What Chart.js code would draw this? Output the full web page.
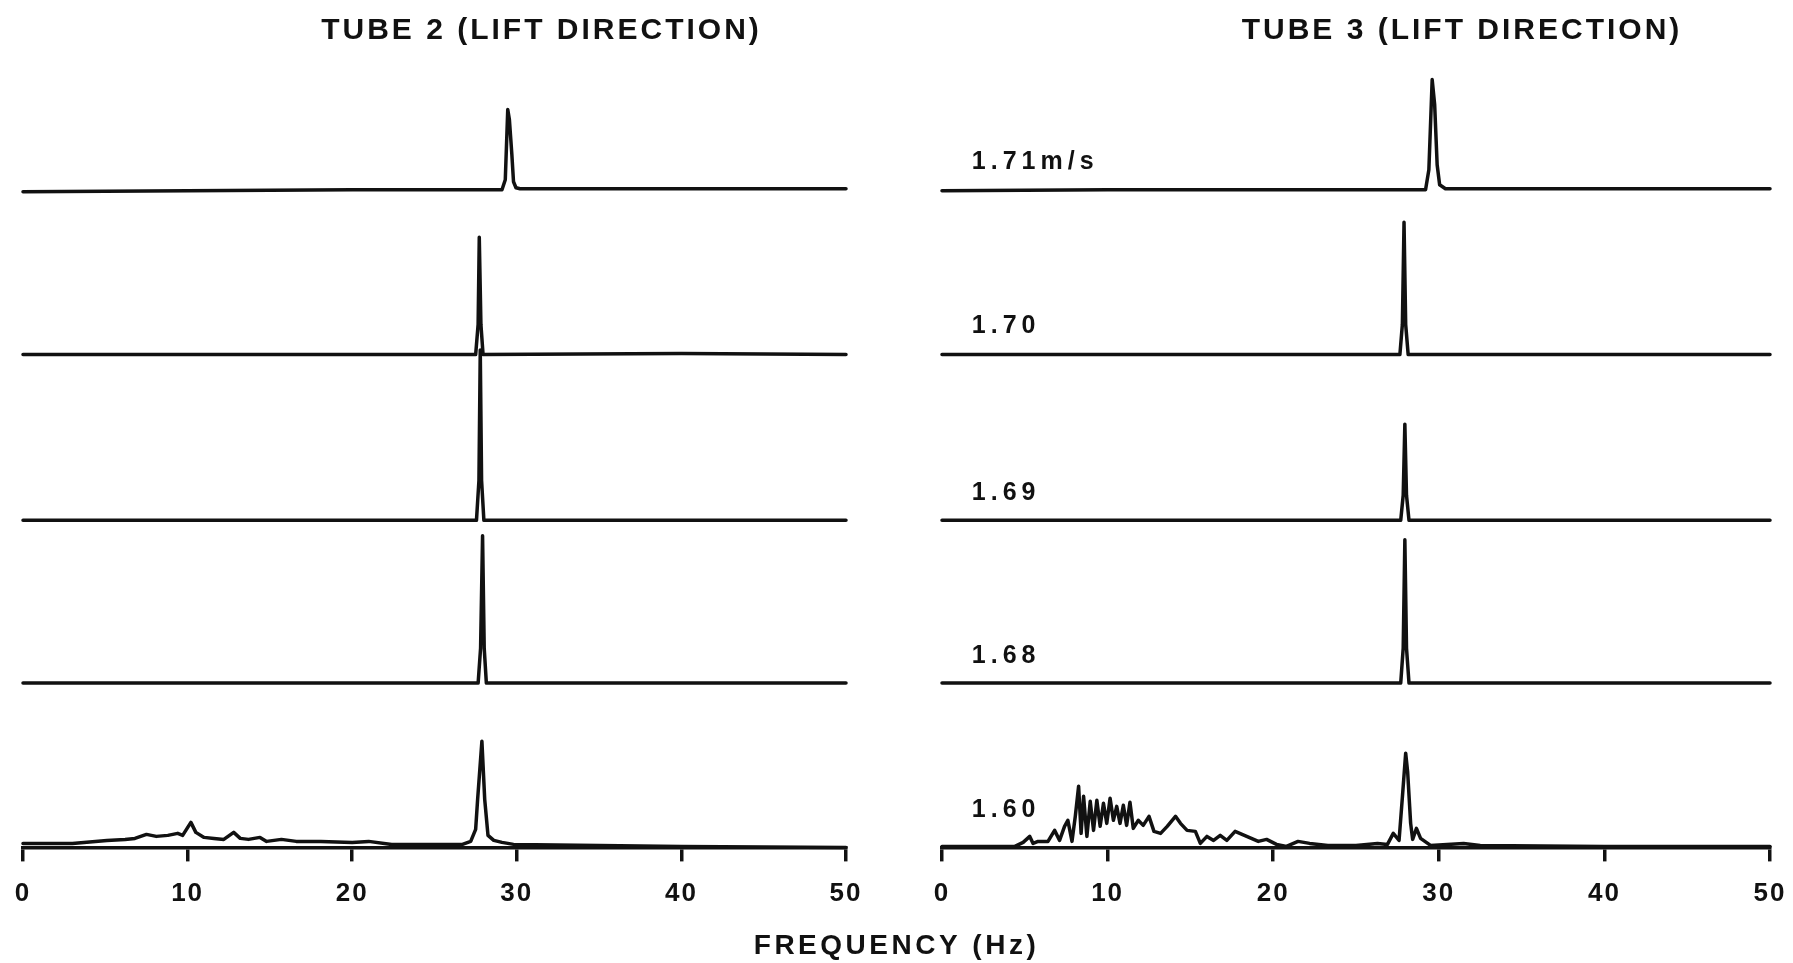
<!DOCTYPE html>
<html lang="en">
<head>
<meta charset="UTF-8"/>
<title>Tube 2 / Tube 3 lift direction spectra</title>
<script src="https://cdn.jsdelivr.net/npm/chart.js"></script>
<style>
 html,body{margin:0;padding:0;background:#fff}
 #wrap{position:relative;width:1793px;height:963px}
</style>
</head>
<body>
<div id="wrap"><canvas id="spectra"></canvas></div>

<script>
// flow speeds, top row to bottom row
const speeds = ['1.71m/s', '1.70', '1.69', '1.68', '1.60'];
const xTicks = [0, 10, 20, 30, 40, 50];

// tube 2 : frequency (Hz) / amplitude (arbitrary units)
const t2f171 = [0, 10, 20, 29.1, 29.3, 29.45, 29.55, 29.7, 29.8, 29.95, 30.2, 40, 50];
const t2a171 = [-0.2, -0.1, 0, 0, 1.0, 8.0, 7.0, 3.5, 0.8, 0.2, 0.1, 0.1, 0.1];
const t2f170 = [0, 15, 27.5, 27.65, 27.72, 27.82, 27.95, 40, 50];
const t2a170 = [0, 0, 0, 3.0, 11.7, 3.0, 0, 0.1, 0];
const t2f169 = [0, 15, 27.55, 27.7, 27.78, 27.86, 28.0, 40, 50];
const t2a169 = [0, 0, 0, 4.0, 17.0, 4.0, 0, 0, 0];
const t2f168 = [0, 15, 27.65, 27.8, 27.92, 28.02, 28.15, 40, 50];
const t2a168 = [0, 0, 0, 3.5, 14.7, 3.5, 0, 0, 0];
const t2f160 = [0, 3, 5.1, 6.2, 6.8, 7.5, 8.1, 8.8, 9.4, 9.7, 10.2, 10.5, 11.0, 11.6, 12.2, 12.8, 13.2, 13.7,
  14.4, 14.8, 15.7, 16.6, 18.1, 20.0, 21.0, 22.4, 26.7, 27.2, 27.5, 27.62, 27.88, 28.05, 28.25, 28.6, 29.1,
  29.8, 35, 40, 50];
const t2a160 = [0.4, 0.4, 0.7, 0.8, 0.9, 1.3, 1.1, 1.2, 1.4, 1.2, 2.5, 1.5, 1.0, 0.9, 0.8, 1.5, 0.9, 0.8,
  1.0, 0.6, 0.8, 0.6, 0.6, 0.5, 0.6, 0.3, 0.3, 0.6, 1.8, 4.8, 10.6, 4.8, 1.2, 0.7, 0.5,
  0.3, 0.2, 0.1, 0];

// tube 3
const t3f171 = [0, 10, 20, 29.2, 29.4, 29.6, 29.75, 29.9, 30.05, 30.4, 40, 50];
const t3a171 = [-0.1, 0, 0, 0, 2.0, 11.0, 8.5, 2.5, 0.5, 0.1, 0.1, 0.1];
const t3f170 = [0, 15, 27.65, 27.8, 27.9, 28.0, 28.15, 40, 50];
const t3a170 = [0, 0, 0, 3.0, 13.2, 3.0, 0, 0, 0];
const t3f169 = [0, 15, 27.7, 27.85, 27.95, 28.05, 28.2, 40, 50];
const t3a169 = [0, 0, 0, 2.5, 9.6, 2.5, 0, 0, 0];
const t3f168 = [0, 15, 27.7, 27.85, 27.95, 28.05, 28.2, 40, 50];
const t3a168 = [0, 0, 0, 3.5, 14.3, 3.5, 0, 0, 0];
const t3f160 = [0, 4.0, 4.4, 4.9, 5.3, 5.5, 5.8, 6.4, 6.8, 7.1, 7.4, 7.6, 7.85, 8.05, 8.25, 8.4, 8.55, 8.75,
  8.95, 9.15, 9.35, 9.55, 9.75, 9.95, 10.15, 10.35, 10.55, 10.75, 10.95, 11.15, 11.35, 11.55, 11.85, 12.15,
  12.5, 12.8, 13.2, 13.6, 14.1, 14.4, 14.8, 15.3, 15.6, 16.0, 16.4, 16.8, 17.2, 17.7, 18.4, 19.1, 19.6,
  20.2, 20.8, 21.5, 22.2, 23.3, 25.0, 26.3, 26.9, 27.25, 27.6, 27.8, 28.0, 28.12, 28.3, 28.42, 28.65, 28.9,
  29.5, 30.5, 31.5, 32.5, 40, 50];
const t3a160 = [0.1, 0.1, 0.1, 0.5, 1.1, 0.4, 0.6, 0.6, 1.7, 0.7, 2.1, 2.7, 0.6, 3.1, 6.1, 1.4, 5.1, 1.1,
  4.6, 1.7, 4.7, 2.1, 4.4, 2.4, 4.9, 2.7, 4.1, 2.4, 4.2, 2.2, 4.5, 1.9, 2.7, 2.2,
  3.1, 1.6, 1.4, 2.1, 3.1, 2.4, 1.7, 1.6, 0.4, 1.1, 0.7, 1.2, 0.7, 1.6, 1.1, 0.6, 0.8,
  0.3, 0.1, 0.6, 0.4, 0.2, 0.2, 0.4, 0.3, 1.4, 0.7, 5.0, 9.4, 7.5, 2.4, 0.8, 1.9, 0.9,
  0.2, 0.3, 0.4, 0.2, 0.1, 0.1];

const tube2 = [[t2f171, t2a171], [t2f170, t2a170], [t2f169, t2a169], [t2f168, t2a168], [t2f160, t2a160]];
const tube3 = [[t3f171, t3a171], [t3f170, t3a170], [t3f169, t3a169], [t3f168, t3a168], [t3f160, t3a160]];

const family = "'Liberation Sans', Arial, sans-serif";
const ink = '#111';

const pts = (f, a) => f.map((v, i) => ({x: v, y: a[i]}));
const trace = (f, a, xId, i) => ({
  data: pts(f, a), xAxisID: xId, yAxisID: 'y' + (i + 1),
  borderColor: ink, borderWidth: 3.5, pointRadius: 0, tension: 0, fill: false, clip: false,
  borderJoinStyle: 'round', borderCapStyle: 'round'
});
const datasets = [
  ...tube2.map(([f, a], i) => trace(f, a, 'x2', i)),
  ...tube3.map(([f, a], i) => trace(f, a, 'x3', i))
];

// tall line height pushes the labels down without widening the side padding
const freqAxis = weight => ({
  type: 'linear', position: 'bottom', stack: 'cols', stackWeight: weight, min: 0, max: 50,
  afterBuildTicks: s => { s.ticks = xTicks.map(v => ({value: v})); },
  grid: {display: true, drawOnChartArea: false, drawTicks: true, tickLength: 14, lineWidth: 3.5, color: ink},
  border: {display: true, width: 3.5, color: ink},
  ticks: {z: 1, color: ink, padding: 0, maxRotation: 0, autoSkip: false,
    font: {family, size: 26, weight: 'bold', lineHeight: 2.5}}
});
// one hidden band per row; min below 0 leaves room under each baseline
const band = (weight, min, max) => ({type: 'linear', position: 'right', display: false, stack: 'rows',
  stackWeight: weight, min, max});

// speed labels and panel titles
const spectraText = {
  id: 'spectraText',
  beforeDraw(chart) { chart.ctx.letterSpacing = '3.5px'; },
  beforeDatasetsDraw(chart) { chart.ctx.letterSpacing = '2px'; },
  afterDraw(chart, args, o) {
    const ctx = chart.ctx;
    ctx.save();
    ctx.fillStyle = ink;
    ctx.textBaseline = 'middle';
    ctx.textAlign = 'center';
    ctx.font = 'bold 30px ' + family;
    ctx.letterSpacing = '3px';
    o.titles.forEach(t => {
      ctx.fillText(t.text, chart.scales[t.axis].getPixelForValue(t.at), chart.chartArea.top - 15);
    });
    ctx.textAlign = 'left';
    ctx.font = 'bold 25px ' + family;
    ctx.letterSpacing = '5px';
    speeds.forEach((s, i) => {
      const y = chart.scales['y' + (i + 1)].getPixelForValue(0) - o.lift[i];
      ctx.fillText(s, chart.scales.x3.getPixelForValue(o.labelAt), y);
    });
    ctx.restore();
  }
};

new Chart(document.getElementById('spectra'), {
  type: 'line',
  data: {datasets},
  plugins: [spectraText],
  options: {
    responsive: true,
    maintainAspectRatio: false,
    animation: false,
    events: [],
    layout: {padding: {top: 46, left: 23, right: 23, bottom: 0}},
    scales: {
      x2: freqAxis(823),
      xg: {type: 'linear', position: 'bottom', stack: 'cols', stackWeight: 96, display: false},
      x3: freqAxis(828),
      y1: band(165.5, -2.2, 14.35),
      y2: band(164.5, -2.2, 14.25),
      y3: band(165.5, -2.2, 14.35),
      y4: band(162.5, -2.2, 14.05),
      y5: band(142, 0, 14.2)
    },
    plugins: {
      legend: {display: false},
      tooltip: {enabled: false},
      title: {display: true, position: 'bottom', text: 'FREQUENCY (Hz)', color: ink,
        font: {family, size: 28, weight: 'bold'}, padding: {top: 3, bottom: 0}},
      spectraText: {
        titles: [{text: 'TUBE 2 (LIFT DIRECTION)', axis: 'x2', at: 31.5},
                 {text: 'TUBE 3 (LIFT DIRECTION)', axis: 'x3', at: 31.4}],
        labelAt: 1.8,
        lift: [28, 28, 27, 27, 37]
      }
    }
  }
});
</script>
</body>
</html>
